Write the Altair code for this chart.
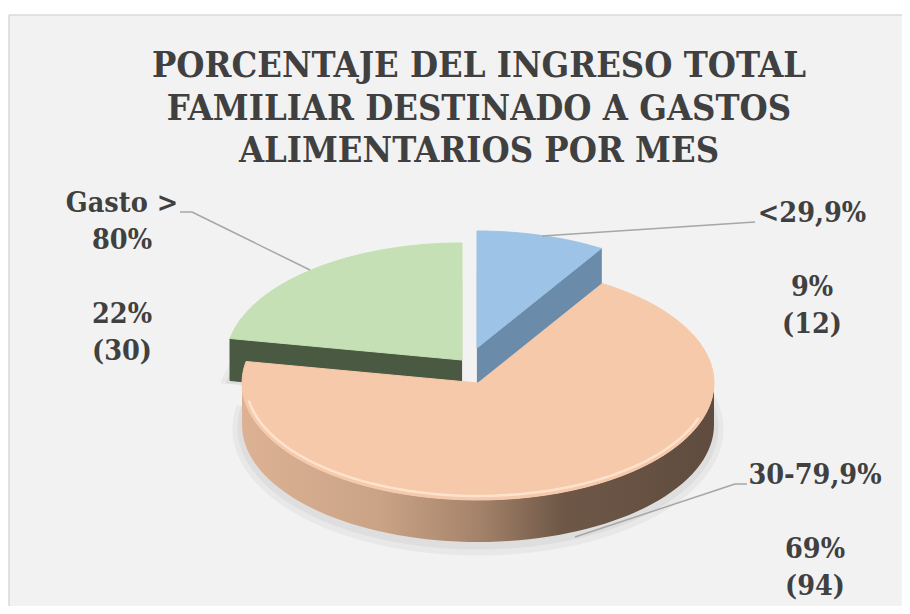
import textwrap
import altair as alt
import pandas as pd

# ---------------- data ----------------
categories = ["<29,9%", "30-79,9%", "Gasto > 80%"]
counts = [12, 94, 30]
title_lines = [
    "PORCENTAJE DEL INGRESO TOTAL",
    "FAMILIAR DESTINADO A GASTOS",
    "ALIMENTARIOS POR MES",
]

total = sum(counts)
cat_text = ["\n".join(textwrap.wrap(c, 8)) for c in categories]
val_text = [f"{round(n / total * 100)}%\n({n})" for n in counts]
df = pd.DataFrame({"cat": categories, "n": counts,
                   "k": list(range(len(categories))),
                   "cat_text": cat_text, "val_text": val_text})

# ---------------- layout / style (page pixels) ----------------
X0, Y0 = 9, 15          # view origin on the page
W, H = 893, 591         # view size
CX, CY, RX, RY, D = 478, 383, 236, 117, 42
N = 72
LH = 37
explode = {"<29,9%": (-1, -35), "30-79,9%": (0, 0), "Gasto > 80%": (-16, -23)}
top_col = {"<29,9%": "#9DC3E6", "30-79,9%": "#F6C9AA", "Gasto > 80%": "#C5E0B4"}
side_col = {"<29,9%": "#6A8BAA", "Gasto > 80%": "#4A5942"}
TXT = "#404040"
FONT = "DejaVu Serif Condensed, DejaVu Serif"
LEAD = "#A6A6A6"


def vx(x):
    return x - X0


def vy(y):
    return y - Y0


xs = alt.Scale(domain=[X0, X0 + W], nice=False, zero=False)
ys = alt.Scale(domain=[Y0, Y0 + H], reverse=True, nice=False, zero=False)
enc = dict(x=alt.X("px:Q", scale=xs, axis=None),
           y=alt.Y("py:Q", scale=ys, axis=None),
           order=alt.Order("seq:Q"))

base = (
    alt.Chart(df)
    .transform_joinaggregate(total="sum(n)")
    .transform_window(cum="sum(n)", sort=[alt.SortField("k", order="ascending")])
    .transform_calculate(a0="(datum.cum - datum.n) / datum.total * 2 * PI")
    .transform_calculate(a1="datum.cum / datum.total * 2 * PI")
)


def top_face(c, fill, grow=0, dy=0, opacity=1.0):
    ox, oy = CX + explode[c][0], CY + explode[c][1] + dy
    return (
        base.transform_filter(alt.datum.cat == c)
        .transform_calculate(seq=f"sequence(0, {N + 3})")
        .transform_flatten(["seq"])
        .transform_calculate(rim=f"(datum.seq > 0 && datum.seq < {N + 2}) ? 1 : 0")
        .transform_calculate(ang=f"datum.a0 + clamp((datum.seq - 1) / {N}, 0, 1) * (datum.a1 - datum.a0)")
        .transform_calculate(px=f"{ox} + datum.rim * {RX + grow} * sin(datum.ang)")
        .transform_calculate(py=f"{oy} - datum.rim * {RY + grow} * cos(datum.ang)")
        .mark_line(fill=fill, stroke=fill, strokeWidth=1, opacity=opacity)
        .encode(**enc)
    )


def radial_face(c, edge):
    ox, oy = CX + explode[c][0], CY + explode[c][1]
    return (
        base.transform_filter(alt.datum.cat == c)
        .transform_calculate(seq="sequence(0, 4)")
        .transform_flatten(["seq"])
        .transform_calculate(rim="(datum.seq == 1 || datum.seq == 2) ? 1 : 0")
        .transform_calculate(low="datum.seq >= 2 ? 1 : 0")
        .transform_calculate(px=f"{ox} + datum.rim * {RX} * sin(datum.{edge})")
        .transform_calculate(py=f"{oy} - datum.rim * {RY} * cos(datum.{edge}) + datum.low * {D}")
        .mark_line(fill=side_col[c], stroke=side_col[c], strokeWidth=1)
        .encode(**enc)
    )


def rim_side(c):
    ox, oy = CX + explode[c][0], CY + explode[c][1]
    grad = alt.LinearGradient(
        gradient="linear", x1=0, x2=1, y1=0, y2=0,
        stops=[alt.GradientStop(color="#DDB294", offset=0),
               alt.GradientStop(color="#C9A285", offset=0.3),
               alt.GradientStop(color="#A5836A", offset=0.5),
               alt.GradientStop(color="#6E5747", offset=0.68),
               alt.GradientStop(color="#5F4C3E", offset=1)])
    return (
        base.transform_filter(alt.datum.cat == c)
        .transform_calculate(seq=f"sequence(0, {2 * N + 2})")
        .transform_flatten(["seq"])
        .transform_calculate(t=f"datum.seq <= {N} ? datum.seq / {N} : ({2 * N + 1} - datum.seq) / {N}")
        .transform_calculate(s0="max(datum.a0, PI / 2)")
        .transform_calculate(s1="min(datum.a1, 3 * PI / 2)")
        .transform_calculate(ang="datum.s0 + datum.t * (datum.s1 - datum.s0)")
        .transform_calculate(low=f"datum.seq > {N} ? 1 : 0")
        .transform_calculate(px=f"{ox} + {RX} * sin(datum.ang)")
        .transform_calculate(py=f"{oy} - {RY} * cos(datum.ang) + datum.low * {D}")
        .mark_line(fill=grad, strokeWidth=0)
        .encode(**enc)
    )


def rim_highlight(c, inset=4):
    ox, oy = CX + explode[c][0], CY + explode[c][1]
    return (
        base.transform_filter(alt.datum.cat == c)
        .transform_calculate(seq=f"sequence(0, {N + 1})")
        .transform_flatten(["seq"])
        .transform_calculate(s0="max(datum.a0, PI * 0.6)")
        .transform_calculate(s1="min(datum.a1, PI * 1.45)")
        .transform_calculate(ang=f"datum.s0 + datum.seq / {N} * (datum.s1 - datum.s0)")
        .transform_calculate(px=f"{ox} + {RX - inset} * sin(datum.ang)")
        .transform_calculate(py=f"{oy} - {RY - inset} * cos(datum.ang)")
        .mark_line(stroke="#FFE8D6", strokeWidth=2.5, opacity=0.8)
        .encode(**enc)
    )


def label(c, x, y):
    ncat = len(textwrap.wrap(c, 8))
    sub = alt.Chart(df).transform_filter(alt.datum.cat == c)
    style = dict(font=FONT, fontWeight="bold", fontSize=28.5, color=TXT,
                 lineBreak="\n", lineHeight=LH, align="center", baseline="alphabetic")
    return [
        sub.mark_text(**style).encode(text="cat_text:N", x=alt.value(vx(x)), y=alt.value(vy(y))),
        sub.mark_text(**style).encode(text="val_text:N", x=alt.value(vx(x)),
                                      y=alt.value(vy(y + (ncat + 1) * LH))),
    ]


dummy = pd.DataFrame({"d": [0]})


def seg(x1, y1, x2, y2, color=LEAD, w=1.5):
    return alt.Chart(dummy).mark_rule(color=color, strokeWidth=w).encode(
        x=alt.value(vx(x1)), y=alt.value(vy(y1)), x2=alt.value(vx(x2)), y2=alt.value(vy(y2)))


title = (
    alt.Chart(pd.DataFrame({"t": ["\n".join(title_lines)]}))
    .mark_text(font=FONT, fontWeight="bold", fontSize=36, color=TXT, lineBreak="\n",
               lineHeight=42.5, align="center", baseline="alphabetic")
    .encode(text="t:N", x=alt.value(vx(479)), y=alt.value(vy(77)))
)

shadows = []
for c in categories:
    shadows.append(top_face(c, "#E8E8E8", grow=9, dy=D + 4))
for c in categories:
    shadows.append(top_face(c, "#DEDEDE", grow=4, dy=D + 3))

chart = alt.layer(
    seg(X0, Y0, X0 + W, Y0, color="#D9D9D9", w=1.5),
    seg(X0, Y0, X0, Y0 + H, color="#D9D9D9", w=1.5),
    *shadows,
    radial_face("<29,9%", "a1"),
    top_face("<29,9%", top_col["<29,9%"]),
    radial_face("Gasto > 80%", "a0"),
    top_face("Gasto > 80%", top_col["Gasto > 80%"]),
    rim_side("30-79,9%"),
    top_face("30-79,9%", top_col["30-79,9%"]),
    rim_highlight("30-79,9%"),
    seg(310, 270, 192, 212), seg(192, 212, 180, 212),
    seg(542, 236, 755, 222),
    seg(575, 537, 735, 484), seg(735, 484, 747, 484),
    *label("<29,9%", 812, 222),
    *label("30-79,9%", 815, 484),
    *label("Gasto > 80%", 122, 212),
    title,
).properties(
    width=W, height=H,
    padding={"left": 1, "top": 7, "right": 0, "bottom": 0},
    autosize=alt.AutoSizeParams(type="none"),
    background="white",
).configure_view(fill="#F2F2F2", stroke="transparent")

chart.save("out.html", embed_options={"renderer": "svg", "actions": False})
